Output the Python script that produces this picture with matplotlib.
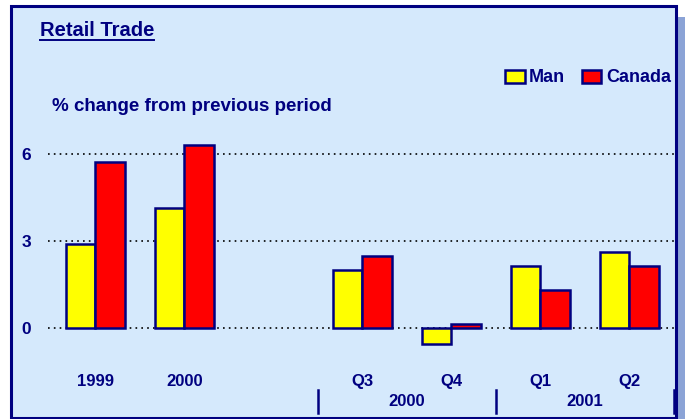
import matplotlib
matplotlib.use('Agg')
import matplotlib.pyplot as plt
from matplotlib.patches import Rectangle
from matplotlib.lines import Line2D
import matplotlib.transforms as mtransforms
import numpy as np

plt.rcParams['font.family'] = ['Liberation Sans', 'DejaVu Sans']
plt.rcParams['font.weight'] = 'bold'

# data
labels = ['1999', '2000', 'Q3', 'Q4', 'Q1', 'Q2']
positions = [0, 1, 3, 4, 5, 6]
man = [2.9, 4.14, 2.0, -0.56, 2.14, 2.61]
canada = [5.72, 6.29, 2.47, 0.13, 1.3, 2.14]
groups = ['2000', '2001']
group_centers = [3.5, 5.5]
separators = [2.5, 4.5, 6.5]
yticks = [0, 3, 6]

navy = '#000080'
bg = '#D5E9FC'

fig = plt.figure(figsize=(6.85, 4.19), dpi=100)
fig.patch.set_facecolor('white')

# shadow + panel with border
fig.patches.append(Rectangle((678/685, 0), 7/685, (419-17)/419, transform=fig.transFigure,
                             facecolor='#8BA3D6', edgecolor='none', zorder=-2))
fig.patches.append(Rectangle((10.5/685, 1.0/419), 665.5/685, (413-1.0)/419, transform=fig.transFigure,
                             facecolor=bg, edgecolor=navy, linewidth=2.2, zorder=-1))

ax = fig.add_axes([48/685, 0.134, 626/685, 0.568])
ax.set_facecolor('none')
for s in ax.spines.values():
    s.set_visible(False)

x = np.array(positions, dtype=float)
w = 0.33
ax.bar(x - w/2, man, w, color='#FFFF00', edgecolor=navy, linewidth=1.8, label='Man', zorder=3)
ax.bar(x + w/2, canada, w, color='#FF0000', edgecolor=navy, linewidth=1.8, label='Canada', zorder=3)

for yv in yticks:
    ax.axhline(yv, color='black', linestyle=(0, (1, 2.5)), linewidth=1.2, zorder=1)

ax.set_xlim(-0.53, 6.5)
ax.set_ylim(-1.2, 7.0)
ax.set_yticks(yticks)
ax.set_yticklabels([str(v) for v in yticks], fontsize=12.5, fontweight='bold', color=navy)
ax.set_xticks(positions)
ax.set_xticklabels(labels, fontsize=12, fontweight='bold', color=navy)
ax.tick_params(axis='both', length=0)
ax.tick_params(axis='y', pad=12)
ax.tick_params(axis='x', pad=8)

trans = mtransforms.blended_transform_factory(ax.transData, ax.transAxes)
for gx, gl in zip(group_centers, groups):
    ax.text(gx, -0.163, gl, transform=trans, ha='center', va='center',
            fontsize=12, fontweight='bold', color=navy)
for sx in separators:
    ax.add_line(Line2D([sx, sx], [-0.113, -0.21], transform=trans, color=navy,
                       linewidth=1.8, clip_on=False))

# title with underline
t = fig.text(40/685, (419-31)/419, 'Retail Trade', fontsize=14.5, fontweight='bold',
             color=navy, ha='left', va='center')
fig.canvas.draw()
bb = t.get_window_extent(fig.canvas.get_renderer()).transformed(fig.transFigure.inverted())
fig.add_artist(Line2D([bb.x0, bb.x1], [(419-40)/419]*2, transform=fig.transFigure,
                      color=navy, linewidth=1.4))

fig.text(52/685, (419-106)/419, '% change from previous period', fontsize=13.5,
         fontweight='bold', color=navy, ha='left', va='center')

fig.legend(loc='center right', bbox_to_anchor=(680/685, (419-78)/419), ncol=2, frameon=False,
           prop={'size': 13, 'weight': 'bold'}, labelcolor=navy, handlelength=1.1,
           handleheight=0.75, handletextpad=0.25, columnspacing=0.9, borderpad=0)

fig.savefig('out.png', dpi=100)
